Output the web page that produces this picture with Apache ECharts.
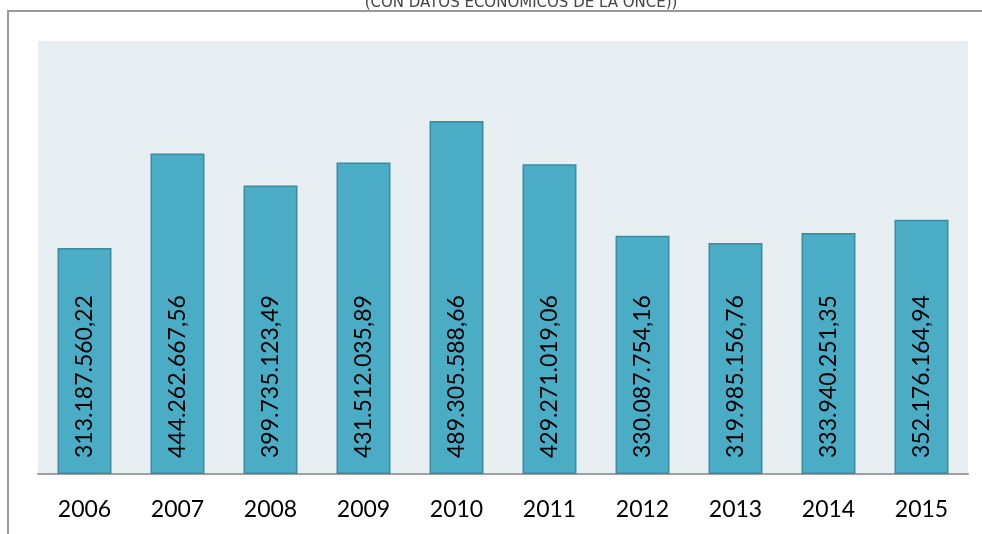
<!DOCTYPE html>
<html>
<head>
<meta charset="utf-8">
<script src="https://cdn.jsdelivr.net/npm/echarts@6/dist/echarts.min.js"></script>
<style>
  html, body { margin: 0; padding: 0; background: #fff; }
  #chart { width: 982px; height: 534px; }
</style>
</head>
<body>
<div id="chart"></div>
<script>
const years = ['2006', '2007', '2008', '2009', '2010', '2011', '2012', '2013', '2014', '2015']
const amounts = [313187560.22, 444262667.56, 399735123.49, 431512035.89, 489305588.66,
  429271019.06, 330087754.16, 319985156.76, 333940251.35, 352176164.94]
const amountLabels = ['313.187.560,22', '444.262.667,56', '399.735.123,49', '431.512.035,89', '489.305.588,66',
  '429.271.019,06', '330.087.754,16', '319.985.156,76', '333.940.251,35', '352.176.164,94']

const chart = echarts.init(document.getElementById('chart'))
chart.setOption({
  animation: false,
  textStyle: { fontFamily: 'Lato' },
  graphic: [
    {
      // outer chart frame, only its top and left edges are in view
      type: 'polyline',
      shape: { points: [[8, 600], [8, 11], [1100, 11]] },
      style: { fill: 'none', stroke: '#9a9a9a', lineWidth: 2 },
      silent: true
    },
    {
      type: 'text',
      x: 521,
      y: 11,
      style: {
        text: '(CON DATOS ECONÓMICOS DE LA ONCE))',
        font: '15px "DejaVu Sans"',
        fill: '#444',
        align: 'center',
        verticalAlign: 'bottom'
      }
    }
  ],
  grid: {
    left: 38, right: 14, top: 41, bottom: 60,
    show: true, backgroundColor: '#e8eff2', borderWidth: 0
  },
  xAxis: {
    type: 'category',
    data: years,
    axisLine: { lineStyle: { color: '#a0a0a0', width: 2 } },
    axisTick: { show: false },
    axisLabel: { color: '#000', fontSize: 23, margin: 24, fontFamily: 'Lato' }
  },
  yAxis: {
    type: 'value',
    min: 0,
    max: 600000000,
    show: false,
    splitLine: { show: false }
  },
  series: [{
    type: 'bar',
    data: amounts,
    barWidth: '58%',
    itemStyle: { color: '#4bacc6', borderColor: '#3a8aa0', borderWidth: 1.5 },
    label: {
      show: true,
      position: 'insideBottom',
      rotate: 90,
      align: 'left',
      verticalAlign: 'middle',
      distance: 16,
      color: '#000',
      fontSize: 23,
      fontFamily: 'Lato',
      formatter: p => amountLabels[p.dataIndex]
    }
  }]
})
</script>
</body>
</html>
